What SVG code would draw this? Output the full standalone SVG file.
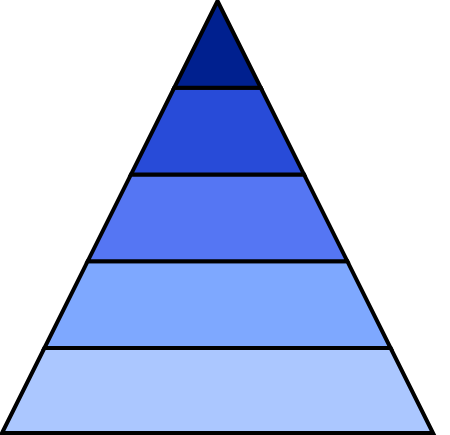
<svg xmlns="http://www.w3.org/2000/svg" width="450" height="435" viewBox="0 0 450 435">
<style>
.layer{stroke:#000;stroke-width:4;stroke-linejoin:miter}
</style>
<rect width="450" height="435" fill="#fff"/>
<g id="layer5"><polygon class="layer" fill="#abc7ff" points="44.4,348 390.6,348 433,433 2,433"/></g>
<g id="layer4"><polygon class="layer" fill="#7ea8ff" points="87.7,261.2 347.3,261.2 390.6,348 44.4,348"/></g>
<g id="layer3"><polygon class="layer" fill="#5576f3" points="131,174.4 304,174.4 347.3,261.2 87.7,261.2"/></g>
<g id="layer2"><polygon class="layer" fill="#284bd8" points="174.2,87.8 260.8,87.8 304,174.4 131,174.4"/></g>
<g id="layer1"><polygon class="layer" fill="#00208f" points="217.5,1 260.8,87.8 174.2,87.8"/></g>
</svg>
